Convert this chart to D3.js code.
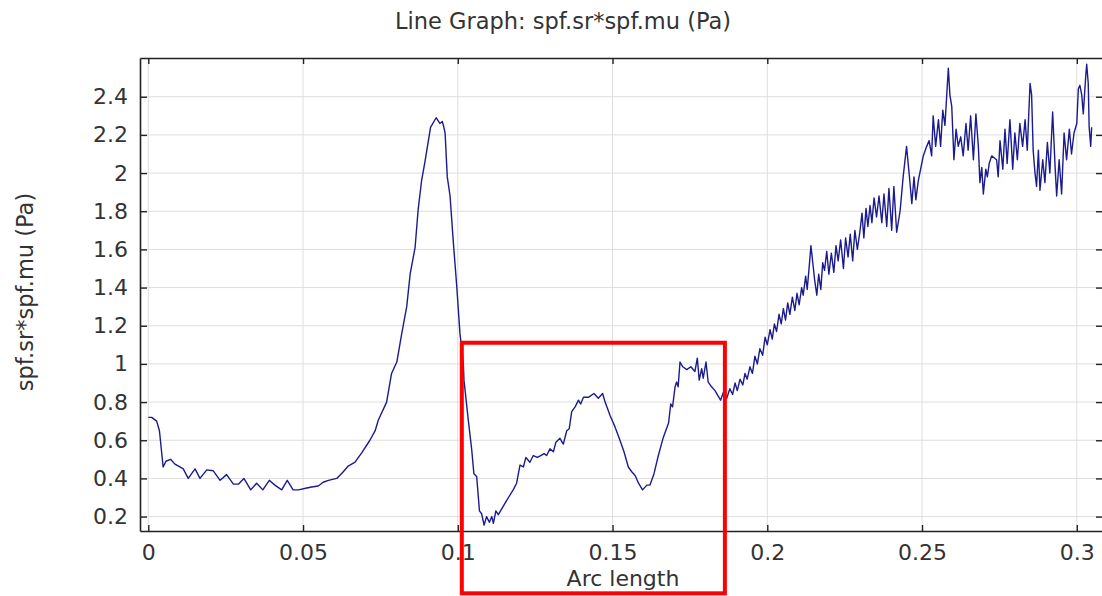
<!DOCTYPE html>
<html>
<head>
<meta charset="utf-8">
<script src="https://cdn.jsdelivr.net/npm/d3@7/dist/d3.min.js"></script>
<style>
  body { margin: 0; background: #fff; }
  svg text { font-family: "DejaVu Sans", sans-serif; fill: #333; }
</style>
</head>
<body>
<div id="chart"></div>
<script>
// Arc length samples
const arcLength = [
  0.0000, 0.0011, 0.0027, 0.0036, 0.0048, 0.0057, 0.0072, 0.0086, 0.0102, 0.0113,
  0.0129, 0.0151, 0.0167, 0.0189, 0.0210, 0.0232, 0.0253, 0.0275, 0.0291, 0.0309,
  0.0331, 0.0350, 0.0370, 0.0391, 0.0409, 0.0431, 0.0449, 0.0468, 0.0485, 0.0512,
  0.0528, 0.0549, 0.0565, 0.0582, 0.0609, 0.0630, 0.0646, 0.0668, 0.0690, 0.0716,
  0.0733, 0.0743, 0.0770, 0.0786, 0.0803, 0.0819, 0.0835, 0.0846, 0.0862, 0.0872,
  0.0883, 0.0894, 0.0905, 0.0912, 0.0930, 0.0942, 0.0950, 0.0955, 0.0959, 0.0966,
  0.0975, 0.0985, 0.0996, 0.1007, 0.1018, 0.1020, 0.1034, 0.1045, 0.1052, 0.1061,
  0.1070, 0.1077, 0.1085, 0.1093, 0.1102, 0.1110, 0.1115, 0.1123, 0.1131, 0.1142,
  0.1158, 0.1179, 0.1190, 0.1201, 0.1212, 0.1220, 0.1233, 0.1244, 0.1257, 0.1268,
  0.1279, 0.1287, 0.1298, 0.1309, 0.1317, 0.1330, 0.1341, 0.1352, 0.1360, 0.1368,
  0.1379, 0.1390, 0.1397, 0.1406, 0.1422, 0.1440, 0.1454, 0.1468, 0.1476, 0.1492,
  0.1508, 0.1524, 0.1537, 0.1551, 0.1562, 0.1573, 0.1584, 0.1597, 0.1611, 0.1621,
  0.1634, 0.1648, 0.1664, 0.1681, 0.1688, 0.1694, 0.1702, 0.1707, 0.1712, 0.1718,
  0.1727, 0.1740, 0.1753, 0.1766, 0.1774, 0.1780, 0.1788, 0.1793, 0.1802, 0.1809,
  0.1820, 0.1831, 0.1842, 0.1849, 0.1858, 0.1869, 0.1879, 0.1888, 0.1896, 0.1903,
  0.1912, 0.1921, 0.1928, 0.1935, 0.1944, 0.1952, 0.1960, 0.1968, 0.1976, 0.1985,
  0.1993, 0.2000, 0.2009, 0.2016, 0.2023, 0.2030, 0.2038, 0.2045, 0.2052, 0.2059,
  0.2066, 0.2073, 0.2081, 0.2089, 0.2096, 0.2103, 0.2111, 0.2116, 0.2124, 0.2129,
  0.2136, 0.2141, 0.2147, 0.2153, 0.2160, 0.2166, 0.2173, 0.2179, 0.2185, 0.2192,
  0.2199, 0.2207, 0.2215, 0.2222, 0.2229, 0.2237, 0.2246, 0.2253, 0.2261, 0.2268,
  0.2276, 0.2283, 0.2291, 0.2299, 0.2306, 0.2312, 0.2319, 0.2325, 0.2332, 0.2338,
  0.2345, 0.2353, 0.2361, 0.2370, 0.2377, 0.2386, 0.2393, 0.2402, 0.2409, 0.2418,
  0.2429, 0.2439, 0.2450, 0.2461, 0.2467, 0.2474, 0.2480, 0.2488, 0.2504, 0.2515,
  0.2523, 0.2531, 0.2536, 0.2544, 0.2553, 0.2560, 0.2567, 0.2574, 0.2585, 0.2590,
  0.2596, 0.2603, 0.2610, 0.2617, 0.2625, 0.2633, 0.2642, 0.2649, 0.2657, 0.2666,
  0.2674, 0.2682, 0.2687, 0.2693, 0.2698, 0.2706, 0.2711, 0.2717, 0.2725, 0.2741,
  0.2746, 0.2752, 0.2761, 0.2768, 0.2775, 0.2784, 0.2793, 0.2800, 0.2808, 0.2816,
  0.2825, 0.2833, 0.2840, 0.2849, 0.2854, 0.2859, 0.2865, 0.2870, 0.2876, 0.2881,
  0.2890, 0.2897, 0.2905, 0.2913, 0.2922, 0.2930, 0.2935, 0.2943, 0.2951, 0.2959,
  0.2967, 0.2976, 0.2983, 0.2991, 0.3000, 0.3005, 0.3010, 0.3016, 0.3021, 0.3029,
  0.3032, 0.3037, 0.3040, 0.3045, 0.3048
];

// spf.sr*spf.mu (Pa) at each sample
const stress = [
  0.72, 0.72, 0.70, 0.65, 0.46, 0.49, 0.50, 0.475, 0.46, 0.45,
  0.40, 0.45, 0.40, 0.445, 0.44, 0.39, 0.42, 0.37, 0.37, 0.40,
  0.34, 0.375, 0.34, 0.39, 0.365, 0.34, 0.39, 0.34, 0.34, 0.35,
  0.355, 0.36, 0.38, 0.39, 0.40, 0.435, 0.465, 0.485, 0.535, 0.60,
  0.65, 0.705, 0.80, 0.95, 1.01, 1.16, 1.30, 1.47, 1.61, 1.81,
  1.96, 2.06, 2.17, 2.24, 2.29, 2.26, 2.27, 2.24, 2.21, 1.98,
  1.88, 1.65, 1.42, 1.16, 1.00, 0.915, 0.705, 0.55, 0.425, 0.41,
  0.23, 0.215, 0.155, 0.20, 0.17, 0.20, 0.165, 0.23, 0.21, 0.24,
  0.285, 0.34, 0.375, 0.47, 0.46, 0.51, 0.485, 0.52, 0.51, 0.52,
  0.53, 0.52, 0.555, 0.54, 0.59, 0.61, 0.58, 0.65, 0.66, 0.75,
  0.775, 0.81, 0.79, 0.825, 0.825, 0.845, 0.82, 0.845, 0.80, 0.73,
  0.67, 0.60, 0.54, 0.46, 0.435, 0.415, 0.375, 0.34, 0.365, 0.365,
  0.425, 0.52, 0.615, 0.69, 0.79, 0.775, 0.88, 0.905, 0.88, 1.01,
  0.985, 0.97, 0.985, 0.96, 1.03, 0.915, 0.975, 0.925, 1.01, 0.905,
  0.88, 0.86, 0.83, 0.81, 0.85, 0.82, 0.87, 0.84, 0.90, 0.86,
  0.92, 0.89, 0.95, 0.92, 0.985, 0.95, 1.04, 1.00, 1.08, 1.045,
  1.14, 1.10, 1.18, 1.13, 1.21, 1.17, 1.26, 1.21, 1.29, 1.23,
  1.32, 1.26, 1.35, 1.28, 1.37, 1.31, 1.40, 1.36, 1.46, 1.39,
  1.52, 1.62, 1.53, 1.44, 1.36, 1.47, 1.39, 1.53, 1.49, 1.59,
  1.47, 1.58, 1.48, 1.62, 1.54, 1.65, 1.50, 1.66, 1.56, 1.68,
  1.54, 1.70, 1.60, 1.69, 1.79, 1.66, 1.815, 1.72, 1.83, 1.74,
  1.87, 1.77, 1.88, 1.74, 1.89, 1.72, 1.92, 1.70, 1.93, 1.69,
  1.80, 1.98, 2.14, 1.95, 1.84, 1.98, 1.86, 1.96, 2.09, 2.14,
  2.17, 2.09, 2.30, 2.14, 2.28, 2.14, 2.33, 2.25, 2.55, 2.41,
  2.35, 2.07, 2.23, 2.14, 2.19, 2.09, 2.26, 2.12, 2.30, 2.07,
  2.31, 2.14, 1.95, 2.03, 1.89, 2.02, 1.98, 2.05, 2.09, 2.07,
  1.98, 2.17, 2.02, 2.23, 2.05, 2.28, 2.02, 2.21, 2.07, 2.26,
  2.14, 2.28, 2.12, 2.47, 2.41, 2.12, 2.00, 1.93, 2.12, 1.91,
  2.07, 1.95, 2.16, 2.00, 2.32, 2.03, 1.88, 2.07, 1.89, 2.21,
  2.07, 2.23, 2.10, 2.21, 2.26, 2.44, 2.46, 2.41, 2.31, 2.51,
  2.57, 2.47, 2.24, 2.14, 2.24
];

const xTicks = [0, 0.05, 0.1, 0.15, 0.2, 0.25, 0.3];
const xTickLabels = ["0", "0.05", "0.1", "0.15", "0.2", "0.25", "0.3"];
const yTicks = [0.2, 0.4, 0.6, 0.8, 1, 1.2, 1.4, 1.6, 1.8, 2, 2.2, 2.4];
const yTickLabels = ["0.2", "0.4", "0.6", "0.8", "1", "1.2", "1.4", "1.6", "1.8", "2", "2.2", "2.4"];

// highlighted region (data units): [x0, x1, yTop, yBottom]
const highlightBox = [0.1013, 0.1863, 1.111, -0.202];

const width = 1102, height = 596;
const margin = { top: 58, right: -1, bottom: 65, left: 140 };
const innerW = width - margin.left - margin.right;
const innerH = height - margin.top - margin.bottom;

const svg = d3.select("#chart").append("svg")
    .attr("width", width)
    .attr("height", height);

const g = svg.append("g")
    .attr("transform", `translate(${margin.left},${margin.top})`);

const x = d3.scaleLinear().domain([-0.00268, 0.30847]).range([0, innerW]);
const y = d3.scaleLinear().domain([0.1245, 2.603]).range([innerH, 0]);

// grid
g.append("g").selectAll("line")
    .data(xTicks)
    .enter().append("line")
    .attr("x1", d => x(d)).attr("x2", d => x(d))
    .attr("y1", 0).attr("y2", innerH)
    .attr("stroke", "#dedede").attr("stroke-width", 1);

g.append("g").selectAll("line")
    .data(yTicks)
    .enter().append("line")
    .attr("x1", 0).attr("x2", innerW)
    .attr("y1", d => y(d)).attr("y2", d => y(d))
    .attr("stroke", "#dedede").attr("stroke-width", 1);

// axes (ticks point inwards, like the original)
const xAxis = g.append("g")
    .attr("transform", `translate(0,${innerH})`)
    .call(d3.axisBottom(x).tickValues(xTicks).tickSizeInner(-6).tickSizeOuter(0)
        .tickPadding(13).tickFormat((d, i) => xTickLabels[i]));

const yAxis = g.append("g")
    .call(d3.axisLeft(y).tickValues(yTicks).tickSizeInner(-7).tickSizeOuter(0)
        .tickPadding(12).tickFormat((d, i) => yTickLabels[i]));

const topAxis = g.append("g")
    .call(d3.axisTop(x).tickValues(xTicks).tickSizeInner(-6).tickSizeOuter(0).tickFormat(""));

const rightAxis = g.append("g")
    .attr("transform", `translate(${innerW},0)`)
    .call(d3.axisRight(y).tickValues(yTicks).tickSizeInner(-7).tickSizeOuter(0).tickFormat(""));

[xAxis, yAxis, topAxis, rightAxis].forEach(a => {
    a.select(".domain").attr("stroke", "#222").attr("stroke-width", 1.6);
    a.selectAll(".tick line").attr("stroke", "#222").attr("stroke-width", 1.4);
    a.selectAll(".tick text").style("font-size", "22px").attr("fill", "#333");
});

// the curve
const line = d3.line()
    .x((d, i) => x(arcLength[i]))
    .y(d => y(d));

g.append("path")
    .datum(stress)
    .attr("fill", "none")
    .attr("stroke", "#1b1b8f")
    .attr("stroke-width", 1.4)
    .attr("stroke-linejoin", "round")
    .attr("d", line);

// titles
svg.append("text")
    .attr("x", 563).attr("y", 29)
    .attr("text-anchor", "middle")
    .style("font-size", "22.5px")
    .text("Line Graph: spf.sr*spf.mu (Pa)");

svg.append("text")
    .attr("transform", "translate(33,292) rotate(-90)")
    .attr("text-anchor", "middle")
    .style("font-size", "22.5px")
    .text("spf.sr*spf.mu (Pa)");

svg.append("text")
    .attr("x", 623).attr("y", 586)
    .attr("text-anchor", "middle")
    .style("font-size", "22px")
    .text("Arc length");

// red highlight box on top
g.append("rect")
    .attr("x", x(highlightBox[0]))
    .attr("y", y(highlightBox[2]))
    .attr("width", x(highlightBox[1]) - x(highlightBox[0]))
    .attr("height", y(highlightBox[3]) - y(highlightBox[2]))
    .attr("fill", "none")
    .attr("stroke", "#ff0000")
    .attr("stroke-width", 4);
</script>
</body>
</html>
